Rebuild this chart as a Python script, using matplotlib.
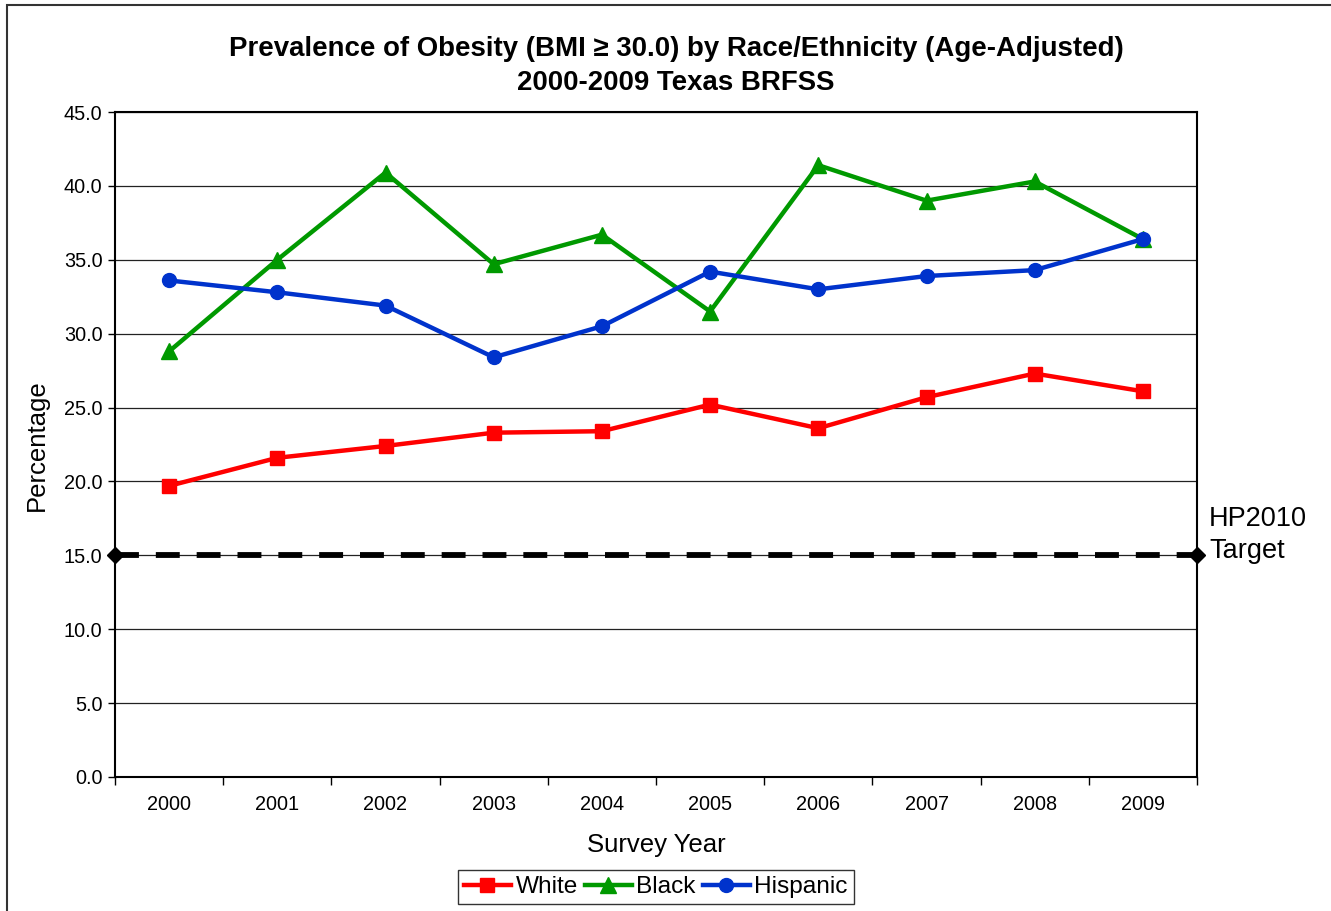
import matplotlib
matplotlib.use("Agg")
import matplotlib.pyplot as plt
from matplotlib.patches import Rectangle
from matplotlib.ticker import FixedLocator, NullFormatter

plt.rcParams['font.family'] = ['Liberation Sans', 'DejaVu Sans']

years = ['2000', '2001', '2002', '2003', '2004', '2005', '2006', '2007', '2008', '2009']
white = [19.7, 21.6, 22.4, 23.3, 23.4, 25.2, 23.6, 25.7, 27.3, 26.1]
black = [28.8, 35.0, 40.9, 34.7, 36.7, 31.5, 41.4, 39.0, 40.3, 36.4]
hispanic = [33.6, 32.8, 31.9, 28.4, 30.5, 34.2, 33.0, 33.9, 34.3, 36.4]
hp2010_target = 15.0
y_ticks = [0, 5, 10, 15, 20, 25, 30, 35, 40, 45]

W, H = 1331, 911
fig = plt.figure(figsize=(W / 100, H / 100), dpi=100)
fig.patch.set_facecolor('white')

# outer chart frame
fig.patches.append(Rectangle((7 / W, -0.05), 1.1, 1 - 5 / H + 0.05,
                             transform=fig.transFigure, fill=False,
                             edgecolor='#333333', linewidth=1.5))

left, right, top, bottom = 115 / W, 1197 / W, 1 - 112 / H, 1 - 777 / H
ax = fig.add_axes([left, bottom, right - left, top - bottom])

x = list(range(len(years)))
ax.set_xlim(-0.5, len(years) - 0.5)
ax.set_ylim(0, 45)

ax.set_yticks(y_ticks)
ax.set_yticklabels([f'{v:.1f}' for v in y_ticks], fontsize=14.3)
ax.yaxis.grid(True, color='#222222', linewidth=0.9)
ax.set_axisbelow(True)

# category labels centred, tick marks between categories
ax.xaxis.set_major_locator(FixedLocator(x))
ax.set_xticklabels(years, fontsize=14.3)
ax.tick_params(axis='x', which='major', length=0, pad=13)
ax.xaxis.set_minor_locator(FixedLocator([i - 0.5 for i in range(len(years) + 1)]))
ax.xaxis.set_minor_formatter(NullFormatter())
ax.tick_params(axis='x', which='minor', length=6, width=1, color='black', direction='out')
ax.tick_params(axis='y', length=5, width=1, direction='out', pad=4)

for s in ax.spines.values():
    s.set_linewidth(1.5)
    s.set_color('black')

lw = 3.2
ax.plot(x, white, color='#FF0000', lw=lw, marker='s', markersize=10, label='White', zorder=3)
ax.plot(x, black, color='#009900', lw=lw, marker='^', markersize=11, label='Black', zorder=3)
ax.plot(x, hispanic, color='#0033CC', lw=lw, marker='o', markersize=10, label='Hispanic', zorder=3)

# HP2010 target line across the full plot width
ax.plot([-0.5, len(years) - 0.5], [hp2010_target, hp2010_target], color='black',
        lw=4.2, dashes=(4.1, 2.9), marker='D', markersize=8, clip_on=False, zorder=4)
ax.text(1.011, (777 - 535) / (777 - 112), 'HP2010\nTarget', transform=ax.transAxes,
        fontsize=19.5, va='center', ha='left', linespacing=1.35)

fig.text(676 / W, 1 - 49 / H, 'Prevalence of Obesity (BMI \u2265 30.0) by Race/Ethnicity (Age-Adjusted)',
         fontsize=19.9, fontweight='bold', ha='center', va='center')
fig.text(676 / W, 1 - 83 / H, '2000-2009 Texas BRFSS',
         fontsize=19.9, fontweight='bold', ha='center', va='center')

fig.text((left + right) / 2, 1 - 845 / H, 'Survey Year', fontsize=18.5, ha='center', va='center')
fig.text(37 / W, 1 - 445 / H, 'Percentage', fontsize=18.5, ha='center', va='center', rotation=90)

leg = fig.legend(loc='center', bbox_to_anchor=((left + right) / 2, 1 - 887 / H), ncol=3,
                 fontsize=17.6, frameon=True, fancybox=False, edgecolor='black',
                 handlelength=1.9, handletextpad=0.2, columnspacing=0.3, borderpad=0.25,
                 borderaxespad=0)
leg.get_frame().set_linewidth(1.0)

fig.savefig('out.png', dpi=100)
